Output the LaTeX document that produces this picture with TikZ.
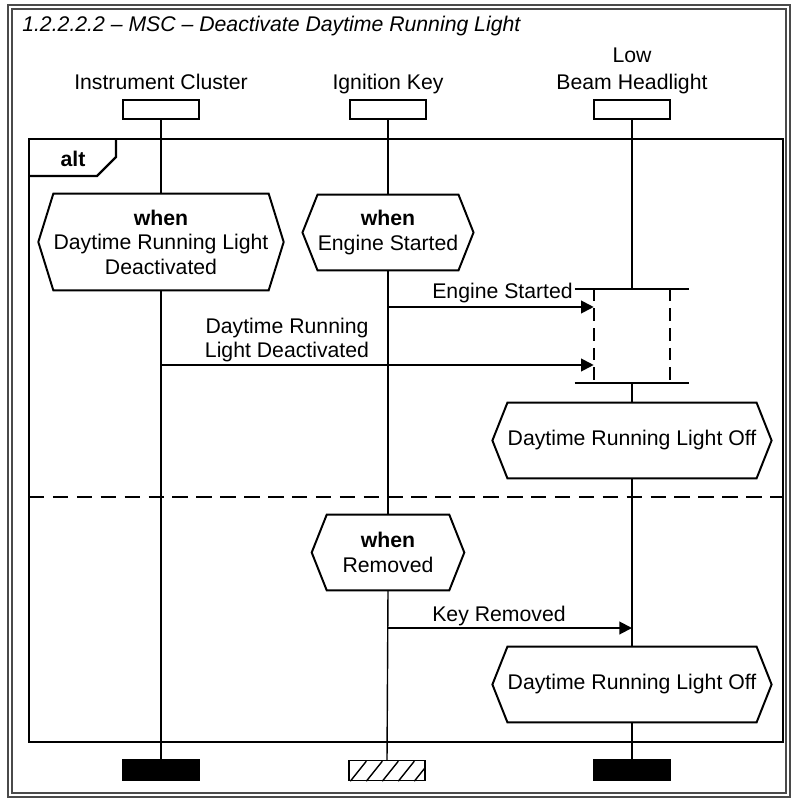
\documentclass[tikz,border=0pt]{standalone}
\usepackage{fontspec}
\setmainfont{Liberation Sans}
\usetikzlibrary{arrows.meta, positioning, calc}
\definecolor{framegray}{HTML}{4A4A4A}

\tikzset{
  msclbl/.style={font=\fontsize{15.1pt}{17.4pt}\selectfont, inner sep=0pt},
  headbox/.style={draw, line width=1.4pt, minimum width=1.9cm, minimum height=0.475cm, inner sep=0pt},
  hexbox/.style={msclbl, align=center, minimum height=1.875cm},
  hexline/.style={line width=1.4pt, line join=miter},
  altline/.style={line width=1.6pt},
  lifeline/.style={line width=1pt},
  barline/.style={line width=1.4pt},
  coline/.style={line width=1.4pt, dash pattern=on 9pt off 5pt},
  msg/.style={line width=1.4pt, -{Triangle[length=9pt, width=9pt]}},
  endbar/.style={draw, line width=1pt, minimum width=1.9cm, minimum height=0.5cm, inner sep=0pt}
}

\begin{document}
\begin{tikzpicture}[x=0.025cm, y=-0.025cm]
\useasboundingbox (0,0) rectangle (795,799);

% Double frame
\draw[framegray, line width=1pt] (8,5) rectangle (790,797);
\draw[framegray, line width=1pt] (12,9) rectangle (786,793);

% Title
\node[msclbl, font=\fontsize{15.1pt}{17.4pt}\selectfont\itshape, anchor=base west] (title) at (22,32)
  {1.2.2.2.2 – MSC – Deactivate Daytime Running Light};

% Instance heads
\node[headbox] (boxIC) at (161,109.5) {};
\node[headbox] (boxIK) at (388,109.5) {};
\node[headbox] (boxLB) at (632,109.5) {};
\node[msclbl, anchor=base] (nameIC) at (161,90) {Instrument Cluster};
\node[msclbl, anchor=base] (nameIK) at (388,90) {Ignition Key};
\node[msclbl, font=\fontsize{15.1pt}{19.2pt}\selectfont, align=center, anchor=south] (nameLB) at (632,94.5)
  {Low\\Beam Headlight};

% alt fragment
\draw[altline] (29,139) rectangle (783,742);
\draw[altline] (29,176) -- (97,176) -- (116,157) -- (116,139);
\node[msclbl, font=\fontsize{15.1pt}{17.4pt}\selectfont\bfseries, anchor=base] (altTag) at (73,167) {alt};
\draw[altline, dash pattern=on 11pt off 6pt] (29,497) -- (783,497);

% Conditions and actions
\node[hexbox, minimum width=5.325cm, minimum height=2.4cm] (condIC) at (161,242)
  {\textbf{when}\\Daytime Running Light\\Deactivated};
\node[hexbox, minimum width=3.5cm] (condIKa) at (388,232.5) {\textbf{when}\\Engine Started};
\node[hexbox, minimum width=6.2cm] (offLBa) at (632,440.5) {Daytime Running Light Off};
\node[hexbox, minimum width=3.05cm] (condIKb) at (388,552.5) {\textbf{when}\\Removed};
\node[hexbox, minimum width=6.2cm] (offLBb) at (632,684.5) {Daytime Running Light Off};
\foreach \n in {condIC, condIKa, offLBa, condIKb, offLBb}
  \draw[hexline] (\n.north west) -- (\n.north east) -- ($(\n.east)+(15,0)$)
    -- (\n.south east) -- (\n.south west) -- ($(\n.west)+(-15,0)$) -- cycle;

% Coregion
\node[minimum width=1.9cm, minimum height=2.35cm, inner sep=0pt] (coreg) at (632,336) {};
\draw[barline] ($(coreg.north west)+(-19,0)$) -- ($(coreg.north east)+(19,0)$);
\draw[barline] ($(coreg.south west)+(-19,0)$) -- ($(coreg.south east)+(19,0)$);
\draw[coline] (coreg.north west) -- (coreg.south west);
\draw[coline] (coreg.north east) -- (coreg.south east);

% Instance ends
\node[endbar, fill=black] (endIC) at (161,770) {};
\node[endbar] (endIK) at (387,770.5) {};
\node[endbar, fill=black] (endLB) at (632,770) {};
\begin{scope}
  \clip (endIK.south west) rectangle (endIK.north east);
  \foreach \i in {0,...,4}
    \draw[line width=1pt] ($(endIK.south west)+(2+16*\i,0)$) -- ++(16,-20);
\end{scope}

% Lifelines
\draw[lifeline] (boxIC.south) -- (condIC.north);
\draw[lifeline] (condIC.south) -- (endIC.north);
\draw[lifeline] (boxIK.south) -- (condIKa.north);
\draw[lifeline] (condIKa.south) -- (condIKb.north);
\draw[lifeline] (condIKb.south) -- (endIK.north);
\draw[lifeline] (boxLB.south) -- (coreg.north);
\draw[lifeline] (coreg.south) -- (offLBa.north);
\draw[lifeline] (offLBa.south) -- (offLBb.north);
\draw[lifeline] (offLBb.south) -- (endLB.north);

% Messages
\coordinate (ikEng) at (388,307);
\coordinate (icDrl) at (161,365);
\coordinate (ikKey) at (388,628);
\draw[msg] (ikEng) -- (ikEng -| coreg.west);
\draw[msg] (icDrl) -- (icDrl -| coreg.west);
\draw[msg] (ikKey) -- (ikKey -| boxLB.south);
\node[msclbl, anchor=base west] (lblEng) at (432,299) {Engine Started};
\node[msclbl, align=center, anchor=south] (lblDrl) at (287,362.5) {Daytime Running\\Light Deactivated};
\node[msclbl, anchor=base west] (lblKey) at (432,621) {Key Removed};

\end{tikzpicture}
\end{document}
